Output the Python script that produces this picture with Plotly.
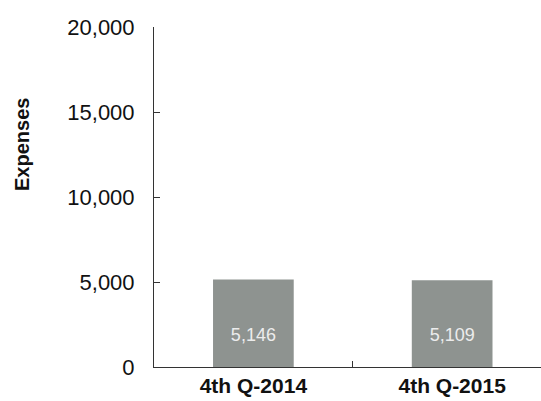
import plotly.graph_objects as go

categories = ["4th Q-2014", "4th Q-2015"]
expenses = [5146, 5109]
y_ticks = [0, 5000, 10000, 15000, 20000]
y_tick_labels = ["0", "5,000", "10,000", "15,000", "20,000"]

fig = go.Figure()
fig.add_trace(go.Bar(
    x=categories,
    y=expenses,
    width=0.406,
    marker=dict(color="#8e9390", line=dict(width=0)),
    text=[f" <br>{v:,}" for v in expenses],
    textposition="inside",
    insidetextanchor="middle",
    textfont=dict(family="Liberation Sans, Arial", size=18, color="#ececec"),
    cliponaxis=False,
))

fig.update_layout(
    width=541, height=401,
    margin=dict(l=154, r=0, t=27, b=34),
    paper_bgcolor="white", plot_bgcolor="white",
    font=dict(family="Liberation Sans, Arial", color="#111"),
    showlegend=False,
    uniformtext=dict(mode=False),
    annotations=[dict(
        text="Expenses", textangle=-90,
        xref="paper", yref="paper", x=-0.341, y=0.653,
        xanchor="center", yanchor="middle", showarrow=False,
        font=dict(family="Liberation Sans, Arial", size=20, color="#111", weight="bold"),
    )],
)
fig.update_xaxes(
    range=[-0.5, 1.447],
    showline=True, linecolor="#333", linewidth=1,
    ticks="inside", ticklen=6, tickcolor="#333", tickson="boundaries",
    showgrid=False,
    tickfont=dict(family="Liberation Sans, Arial", size=21, color="#111", weight="bold"),
    ticklabelstandoff=0,
)
fig.update_yaxes(
    range=[0, 20000],
    tickvals=y_ticks, ticktext=y_tick_labels,
    showline=True, linecolor="#333", linewidth=1,
    ticks="inside", ticklen=6, tickcolor="#333",
    showgrid=False, zeroline=False,
    tickfont=dict(family="Liberation Sans, Arial", size=22, color="#111"),
    ticklabelstandoff=14,
)

fig.write_html("out.html")
